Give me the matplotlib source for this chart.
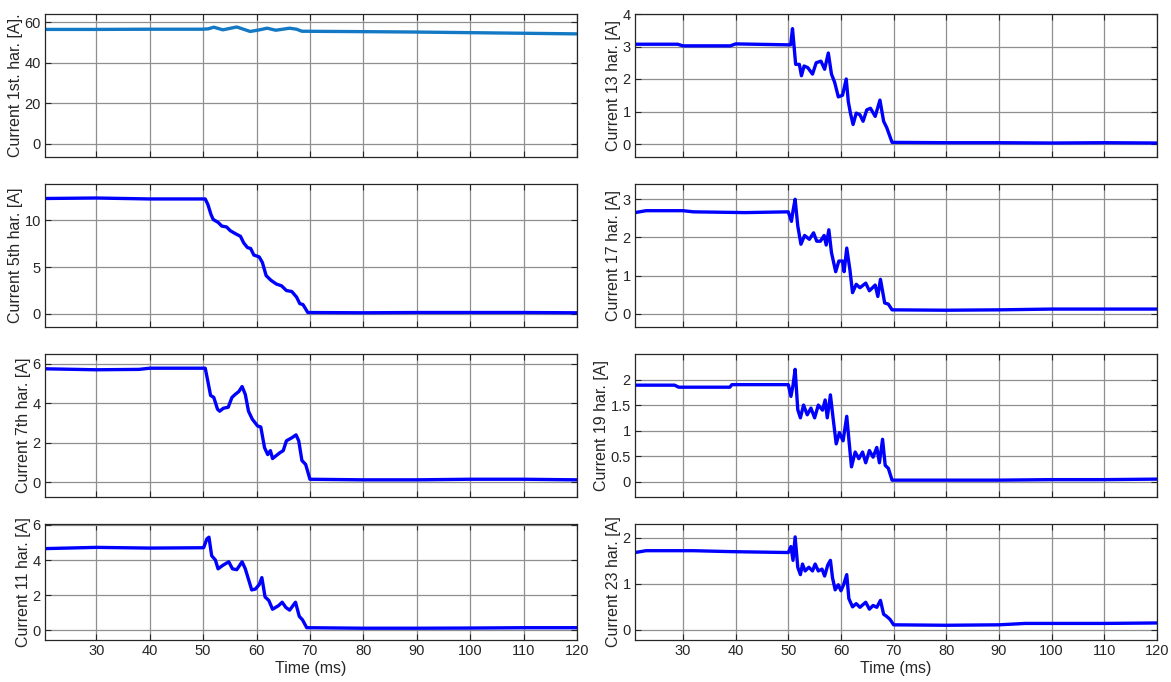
import matplotlib.pyplot as plt

plt.rcParams["font.family"] = ["Liberation Sans", "DejaVu Sans"]

# 1st harmonic
t1 = [20.4, 30, 40, 50, 51, 52, 53.7, 56.3, 58.8, 60.2, 62, 63.6, 66.2, 67.5, 68.5, 80, 90, 100, 110, 120]
i1 = [56.4, 56.4, 56.5, 56.5, 56.7, 57.5, 56.2, 57.6, 55.4, 56.0, 57.0, 56.0, 57.0, 56.5, 55.5, 55.3, 55.1, 54.8, 54.5, 54.2]

# 5th harmonic
t5 = [20.4, 30, 40, 50.4, 50.9, 51.5, 51.9, 52.8, 53.5, 54.4, 55.1, 56, 57, 57.6, 58.3, 58.9, 59.5,
      60.5, 61.1, 61.8, 62.7, 63.7, 64.7, 65.6, 66.6, 67.5, 68.1, 68.7, 69.6, 80, 90, 100, 110, 120]
i5 = [12.35, 12.4, 12.3, 12.3, 11.7, 10.6, 10.1, 9.8, 9.4, 9.3, 8.9, 8.6, 8.3, 7.6, 7.1, 7.0, 6.3,
      6.1, 5.5, 4.1, 3.6, 3.2, 3.0, 2.5, 2.4, 1.8, 1.1, 1.0, 0.15, 0.12, 0.15, 0.15, 0.15, 0.12]

# 7th harmonic
t7 = [20.4, 30, 38, 40, 50.4, 50.9, 51.4, 52, 52.7, 53.1, 53.8, 54.7, 55.4, 56, 56.7, 57.3, 57.9,
      58.5, 59.2, 60.2, 60.8, 61.5, 62.1, 62.6, 63, 63.7, 64.4, 65, 65.6, 66.6, 67.4, 67.9, 68.5,
      69.2, 70, 80, 90, 100, 110, 120]
i7 = [5.75, 5.7, 5.72, 5.78, 5.78, 5.1, 4.4, 4.3, 3.7, 3.6, 3.75, 3.8, 4.3, 4.45, 4.6, 4.85, 4.45,
      3.6, 3.2, 2.85, 2.8, 1.75, 1.4, 1.6, 1.2, 1.35, 1.5, 1.6, 2.1, 2.25, 2.4, 2.1, 1.1,
      0.9, 0.15, 0.12, 0.12, 0.15, 0.15, 0.12]

# 11th harmonic
t11 = [20.4, 30, 40, 50.1, 50.7, 51.1, 51.6, 52.3, 52.8, 53.7, 54.8, 55.5, 56.3, 57.3, 57.9, 58.4,
       59.1, 59.8, 60.5, 61, 61.6, 62.3, 63, 64.1, 64.8, 65.5, 66.2, 67.3, 68, 68.6, 69.4, 80, 90,
       100, 110, 120]
i11 = [4.65, 4.72, 4.68, 4.7, 5.2, 5.3, 4.25, 4.0, 3.5, 3.7, 3.9, 3.5, 3.45, 3.9, 3.5, 3.0,
       2.3, 2.35, 2.6, 3.0, 1.9, 1.7, 1.2, 1.4, 1.6, 1.3, 1.15, 1.6, 0.8, 0.6, 0.15, 0.12, 0.12,
       0.13, 0.15, 0.15]

# 13th harmonic
t13 = [20.9, 29, 30, 39, 40, 50.45, 50.8, 51.4, 52.1, 52.5, 53, 53.7, 54.6, 55.3, 56.2, 56.9, 57.6,
       58.2, 58.8, 59.5, 60.3, 61, 61.4, 61.8, 62.3, 62.9, 63.6, 64.2, 64.9, 65.6, 66.5, 67.4, 68.1,
       68.7, 69.7, 80, 90, 100, 110, 120]
i13 = [3.07, 3.07, 3.02, 3.02, 3.08, 3.05, 3.55, 2.45, 2.45, 2.1, 2.4, 2.35, 2.15, 2.5, 2.55, 2.3, 2.8,
       2.15, 1.9, 1.45, 1.5, 2.0, 1.3, 0.95, 0.6, 0.95, 0.9, 0.7, 1.05, 1.1, 0.85, 1.35, 0.7,
       0.5, 0.05, 0.04, 0.04, 0.03, 0.04, 0.03]

# 17th harmonic
t17 = [20.9, 23, 30, 32, 41.8, 50, 50.6, 50.9, 51.3, 51.8, 52.4, 53.1, 54, 54.8, 55.4, 56.1, 56.8,
       57.2, 57.7, 58.2, 59, 59.6, 60.3, 60.6, 61.1, 61.7, 62.2, 62.9, 63.6, 64.7, 65.4, 66.5, 67,
       67.5, 68.3, 69, 69.7, 80, 90, 100, 110, 120]
i17 = [2.65, 2.7, 2.7, 2.67, 2.65, 2.67, 2.42, 2.7, 3.0, 2.3, 1.82, 2.05, 1.95, 2.12, 1.9, 1.9, 2.05,
       1.8, 2.2, 1.6, 1.1, 1.38, 1.38, 1.1, 1.72, 1.15, 0.55, 0.77, 0.68, 0.8, 0.6, 0.75, 0.45,
       0.9, 0.28, 0.25, 0.1, 0.09, 0.1, 0.12, 0.12, 0.12]

# 19th harmonic
t19 = [20.9, 28.4, 29.2, 38.9, 39.3, 50, 50.5, 50.9, 51.3, 51.8, 52.3, 52.9, 53.6, 54.3, 55, 55.7,
       56.5, 57, 57.4, 58, 58.5, 59.1, 59.7, 60.4, 61.1, 61.7, 62, 62.7, 63.4, 64.1, 64.7, 65.4,
       66.1, 66.8, 67.3, 67.9, 68.4, 69, 69.7, 80, 90, 100, 110, 120]
i19 = [1.89, 1.89, 1.85, 1.85, 1.9, 1.9, 1.67, 1.89, 2.2, 1.41, 1.25, 1.5, 1.31, 1.44, 1.25, 1.5,
       1.4, 1.6, 1.25, 1.7, 1.25, 0.74, 0.96, 0.8, 1.28, 0.61, 0.29, 0.58, 0.45, 0.58, 0.37, 0.61,
       0.48, 0.67, 0.37, 0.83, 0.32, 0.26, 0.03, 0.03, 0.03, 0.04, 0.04, 0.05]

# 23rd harmonic
t23 = [20.9, 23, 32, 39, 50, 50.5, 50.9, 51.3, 51.8, 52.3, 52.7, 53.2, 53.9, 54.6, 55.1, 55.7, 56.4,
       56.9, 57.5, 58, 58.4, 58.9, 59.5, 60, 60.5, 61.1, 61.5, 62.2, 62.9, 63.6, 64.7, 65.4, 66.1,
       66.8, 67.5, 68.1, 68.6, 69.3, 70, 80, 90, 95, 110, 120]
i23 = [1.68, 1.72, 1.72, 1.7, 1.68, 1.81, 1.51, 2.02, 1.36, 1.2, 1.43, 1.28, 1.36, 1.28, 1.43, 1.28, 1.32,
       1.17, 1.41, 1.51, 1.13, 0.87, 0.98, 0.85, 0.98, 1.2, 0.68, 0.5, 0.57, 0.49, 0.6, 0.45, 0.53,
       0.49, 0.64, 0.34, 0.3, 0.23, 0.11, 0.1, 0.11, 0.14, 0.14, 0.15]

x_ticks = [30, 40, 50, 60, 70, 80, 90, 100, 110, 120]

W, H = 1171, 682

# column (left, right) and row (top, bottom) edges in pixels
left_col = (45, 577)
right_col = (635, 1157)
rows = [(14, 157), (184, 327), (354, 497), (524, 640)]

panels = [
    # col, row, t, i, ylabel, ylim, yticks, yticklabels, color, xmin
    (0, 0, t1, i1, "Current 1st. har. [A].", (-6.5, 64), [0, 20, 40, 60], None, "#1479C4", 20.4),
    (0, 1, t5, i5, "Current 5th har. [A]", (-1.4, 13.9), [0, 5, 10], None, "#0000FF", 20.4),
    (0, 2, t7, i7, "Current 7th har. [A]", (-0.75, 6.5), [0, 2, 4, 6], None, "#0000FF", 20.4),
    (0, 3, t11, i11, "Current 11 har. [A]", (-0.55, 6.05), [0, 2, 4, 6], None, "#0000FF", 20.4),
    (1, 0, t13, i13, "Current 13 har. [A]", (-0.4, 4), [0, 1, 2, 3, 4], None, "#0000FF", 20.9),
    (1, 1, t17, i17, "Current 17 har. [A]", (-0.35, 3.4), [0, 1, 2, 3], None, "#0000FF", 20.9),
    (1, 2, t19, i19, "Current 19 har. [A]", (-0.3, 2.5), [0, 0.5, 1, 1.5, 2], ["0", "0.5", "1", "1.5", "2"], "#0000FF", 20.9),
    (1, 3, t23, i23, "Current 23 har. [A]", (-0.22, 2.3), [0, 1, 2], None, "#0000FF", 20.9),
]

fig = plt.figure(figsize=(W / 100, H / 100), dpi=100)

for col, row, t, i, ylabel, ylim, yticks, ytl, color, xmin in panels:
    x0, x1 = left_col if col == 0 else right_col
    y0, y1 = rows[row]
    ax = fig.add_axes([x0 / W, 1 - y1 / H, (x1 - x0) / W, (y1 - y0) / H])
    ax.plot(t, i, color=color, linewidth=2.4, solid_joinstyle="round", solid_capstyle="round")
    ax.set_xlim(xmin, 120)
    ax.set_ylim(*ylim)
    ax.set_xticks(x_ticks)
    ax.set_yticks(yticks)
    if ytl is not None:
        ax.set_yticklabels(ytl)
    ax.grid(True, color="#8f8f8f", linewidth=0.9)
    ax.tick_params(direction="in", top=True, right=True, length=4, labelsize=10.5,
                   colors="#262626", pad=3)
    for sp in ax.spines.values():
        sp.set_color("#262626")
        sp.set_linewidth(0.9)
    ax.set_ylabel(ylabel, fontsize=11.5, color="#262626", labelpad=1)
    if row == 3:
        ax.set_xlabel("Time (ms)", fontsize=11.5, color="#262626", labelpad=2)
    else:
        ax.tick_params(labelbottom=False)

fig.savefig("out.png", dpi=100)
